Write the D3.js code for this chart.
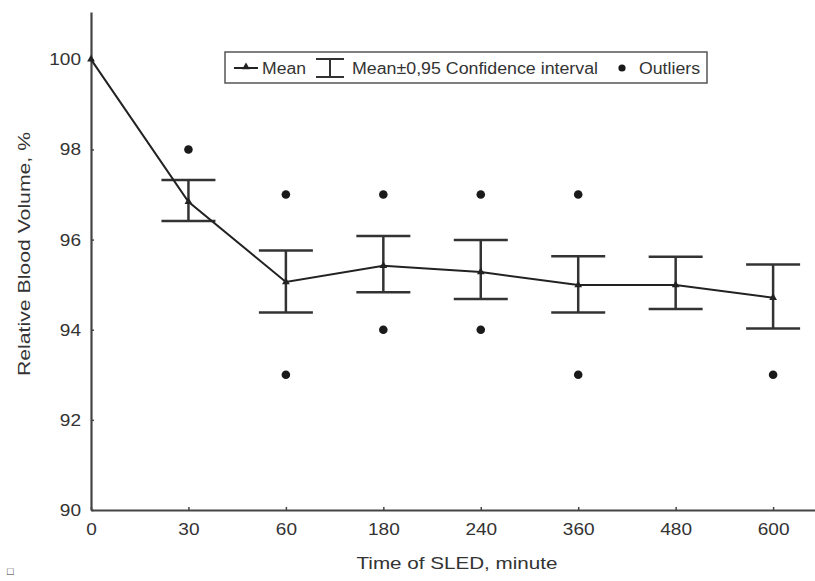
<!DOCTYPE html>
<html>
<head>
<meta charset="utf-8">
<script src="https://cdn.jsdelivr.net/npm/d3@7"></script>
<style>
  body { margin: 0; background: #fff; }
  text { font-family: "Liberation Sans", Arial, sans-serif; fill: #333; }
</style>
</head>
<body>
<div id="wrapper"></div>
<script>
// Data
const times = ['0', '30', '60', '180', '240', '360', '480', '600']
const means = [100, 96.84, 95.06, 95.42, 95.28, 94.99, 94.99, 94.71]
const ciUpper = [null, 97.32, 95.76, 96.08, 95.99, 95.63, 95.62, 95.45]
const ciLower = [null, 96.41, 94.38, 94.83, 94.68, 94.38, 94.46, 94.03]
const outlierTimes = ['30', '60', '60', '180', '180', '240', '240', '360', '360', '600']
const outlierValues = [98, 97, 93, 97, 94, 97, 94, 97, 93, 93]
const yTicks = [90, 92, 94, 96, 98, 100]

const dimensions = {
  width: 815,
  height: 581,
  margins: { top: 12, right: 0, left: 91, bottom: 71 }
}
dimensions.boundedWidth = dimensions.width - dimensions.margins.left - dimensions.margins.right
dimensions.boundedHeight = dimensions.height - dimensions.margins.top - dimensions.margins.bottom

// the source text is a little wider than Arial, stretch it
function stretch(sel, factor) {
  sel.each(function () {
    const w = this.getComputedTextLength()
    d3.select(this)
      .attr('textLength', w * factor)
      .attr('lengthAdjust', 'spacingAndGlyphs')
  })
}

const wrapper = d3.select('#wrapper').append('svg')
  .attr('width', dimensions.width)
  .attr('height', dimensions.height)

const bounds = wrapper.append('g')
  .attr('transform', `translate(${dimensions.margins.left},${dimensions.margins.top})`)

// Scales (x = category index, the axis runs past the last category)
const xScale = d3.scaleLinear()
  .domain([0, 7.43])
  .range([0, dimensions.boundedWidth])

const yScale = d3.scaleLinear()
  .domain([90, 101.05])
  .range([dimensions.boundedHeight, 0])

const xOf = t => xScale(times.indexOf(t))

// Axes
const xAxis = bounds.append('g')
  .attr('transform', `translate(0,${dimensions.boundedHeight})`)
  .call(d3.axisBottom(xScale)
    .tickValues(d3.range(times.length))
    .tickFormat(i => times[i])
    .tickSizeInner(-3).tickSizeOuter(0).tickPadding(13))
xAxis.select('.domain').attr('stroke', '#444').attr('stroke-width', 2.2)
xAxis.selectAll('.tick line').attr('stroke', '#444').attr('stroke-width', 1.5)
xAxis.selectAll('.tick text').attr('fill', '#333').style('font-size', '17px')
  .call(stretch, 1.12)

const yAxis = bounds.append('g')
  .call(d3.axisLeft(yScale)
    .tickValues(yTicks)
    .tickSizeInner(-3).tickSizeOuter(0).tickPadding(10))
yAxis.select('.domain').attr('stroke', '#444').attr('stroke-width', 2.2)
yAxis.selectAll('.tick line').attr('stroke', '#444').attr('stroke-width', 1.5)
yAxis.selectAll('.tick text').attr('fill', '#333').style('font-size', '17px')
  .call(stretch, 1.12)

// Error bars
const capHalf = 27
const bars = bounds.append('g')
  .selectAll('g')
  .data(times.map((t, i) => ({ t, hi: ciUpper[i], lo: ciLower[i] })).filter(d => d.hi != null))
  .enter().append('g')
  .attr('stroke', '#333')
  .attr('stroke-width', 2.5)
bars.append('line')
  .attr('x1', d => xOf(d.t)).attr('x2', d => xOf(d.t))
  .attr('y1', d => yScale(d.hi)).attr('y2', d => yScale(d.lo))
bars.append('line')
  .attr('x1', d => xOf(d.t) - capHalf).attr('x2', d => xOf(d.t) + capHalf)
  .attr('y1', d => yScale(d.hi)).attr('y2', d => yScale(d.hi))
bars.append('line')
  .attr('x1', d => xOf(d.t) - capHalf).attr('x2', d => xOf(d.t) + capHalf)
  .attr('y1', d => yScale(d.lo)).attr('y2', d => yScale(d.lo))

// Mean line
const lineGen = d3.line()
  .x((d, i) => xScale(i))
  .y(d => yScale(d))
bounds.append('path')
  .datum(means)
  .attr('d', lineGen)
  .attr('fill', 'none')
  .attr('stroke', '#222')
  .attr('stroke-width', 2)

const triangle = d3.symbol().type(d3.symbolTriangle).size(26)
bounds.selectAll('.mean-mark')
  .data(means)
  .enter().append('path')
  .attr('class', 'mean-mark')
  .attr('d', triangle)
  .attr('transform', (d, i) => `translate(${xScale(i)},${yScale(d)})`)
  .attr('fill', '#222')

// Outliers
bounds.selectAll('.outlier')
  .data(outlierValues)
  .enter().append('circle')
  .attr('class', 'outlier')
  .attr('cx', (d, i) => xOf(outlierTimes[i]))
  .attr('cy', d => yScale(d))
  .attr('r', 4.3)
  .attr('fill', '#1a1a1a')

// Legend
const legend = wrapper.append('g').attr('transform', 'translate(225,52)')
legend.append('rect')
  .attr('width', 482).attr('height', 31)
  .attr('fill', '#fff').attr('stroke', '#555').attr('stroke-width', 1.5)
legend.append('line')
  .attr('x1', 9).attr('x2', 33).attr('y1', 16).attr('y2', 16)
  .attr('stroke', '#222').attr('stroke-width', 2)
legend.append('path')
  .attr('d', triangle)
  .attr('transform', 'translate(21,15)')
  .attr('fill', '#222')
legend.append('text').attr('x', 37).attr('y', 22).style('font-size', '16px')
  .attr('textLength', 44).attr('lengthAdjust', 'spacingAndGlyphs')
  .text('Mean')
const leg = legend.append('g').attr('stroke', '#333').attr('stroke-width', 2)
leg.append('line').attr('x1', 91).attr('x2', 119).attr('y1', 7).attr('y2', 7)
leg.append('line').attr('x1', 91).attr('x2', 119).attr('y1', 25).attr('y2', 25)
leg.append('line').attr('x1', 105).attr('x2', 105).attr('y1', 7).attr('y2', 25)
legend.append('text').attr('x', 127).attr('y', 22).style('font-size', '16px')
  .attr('textLength', 246).attr('lengthAdjust', 'spacingAndGlyphs')
  .text('Mean±0,95 Confidence interval')
legend.append('circle').attr('cx', 397).attr('cy', 16).attr('r', 3.6).attr('fill', '#1a1a1a')
legend.append('text').attr('x', 414).attr('y', 22).style('font-size', '16px')
  .attr('textLength', 61).attr('lengthAdjust', 'spacingAndGlyphs')
  .text('Outliers')

// Axis labels
wrapper.append('text')
  .attr('x', 457).attr('y', 569)
  .attr('text-anchor', 'middle')
  .style('font-size', '17px')
  .attr('textLength', 201).attr('lengthAdjust', 'spacingAndGlyphs')
  .text('Time of SLED, minute')

wrapper.append('text')
  .attr('transform', 'translate(30,254) rotate(-90)')
  .attr('text-anchor', 'middle')
  .style('font-size', '17px')
  .attr('textLength', 244).attr('lengthAdjust', 'spacingAndGlyphs')
  .text('Relative Blood Volume, %')

wrapper.append('text')
  .attr('x', 7).attr('y', 575)
  .style('font-size', '11px')
  .attr('fill', '#555')
  .text('□')
</script>
</body>
</html>
